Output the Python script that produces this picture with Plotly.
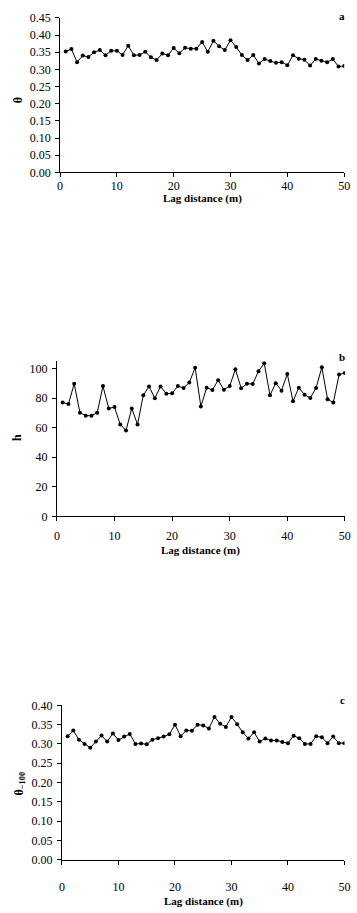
import plotly.graph_objects as go

lag = list(range(1, 51))

theta = [0.352, 0.359, 0.321, 0.340, 0.336, 0.350, 0.356, 0.341, 0.354, 0.354,
         0.342, 0.369, 0.341, 0.342, 0.351, 0.335, 0.327, 0.346, 0.341, 0.362,
         0.347, 0.363, 0.360, 0.360, 0.380, 0.351, 0.383, 0.367, 0.356, 0.385,
         0.365, 0.342, 0.327, 0.342, 0.317, 0.330, 0.324, 0.319, 0.321, 0.312,
         0.341, 0.331, 0.328, 0.311, 0.330, 0.325, 0.321, 0.330, 0.308, 0.310]

h = [77.1, 76.0, 89.8, 70.2, 68.2, 68.2, 70.2, 88.2, 73.1, 74.0,
     62.2, 58.2, 73.1, 62.2, 82.0, 88.0, 80.0, 88.0, 83.1, 83.3,
     88.2, 86.9, 90.7, 100.7, 74.4, 87.1, 85.6, 92.2, 85.8, 88.2,
     99.6, 86.7, 89.8, 89.6, 98.2, 103.6, 82.0, 90.2, 85.1, 96.4,
     78.0, 87.1, 82.4, 80.2, 86.9, 100.9, 79.3, 77.1, 96.0, 97.1]

theta100 = [0.320, 0.335, 0.311, 0.300, 0.290, 0.306, 0.322, 0.306, 0.327, 0.310,
            0.319, 0.326, 0.300, 0.301, 0.299, 0.311, 0.315, 0.319, 0.325, 0.350,
            0.320, 0.335, 0.334, 0.350, 0.348, 0.340, 0.370, 0.352, 0.344, 0.370,
            0.351, 0.330, 0.314, 0.330, 0.306, 0.314, 0.309, 0.309, 0.305, 0.302,
            0.321, 0.315, 0.300, 0.300, 0.320, 0.317, 0.302, 0.319, 0.302, 0.302]

W, H = 357, 913
FONT = "Liberation Serif"

def px(x):
    return x / W

def py(y):
    return 1 - y / H

fig = go.Figure()

panels = [
    (theta, (58.5, 350.0), (11, 168), [0, 0.45], 0.05, ".2f",
     "<b>θ</b>", 15, 95, "a", 9, 194, -2),
    (h, (55.3, 350.7), (359.8, 517.3), [0, 105], 20, "d",
     "<b>h</b>", 15, 437, "b", 355, 552, 4),
    (theta100, (60.5, 350.3), (709.2, 866), [0, 0.40], 0.05, ".2f",
     "<b>θ<sub>−100</sub></b>", 17, 789, "c", 704, 908, 12),
]

annotations = []
for i, (ser, (x0, x1), (yt, yb), yr, dt, fmt, ytitle, ytx, yty, letter, ly, xty, xso) in enumerate(panels):
    k = "" if i == 0 else str(i + 1)
    fig.add_trace(go.Scatter(
        x=lag, y=ser, mode="lines+markers",
        line=dict(color="black", width=1),
        marker=dict(color="black", size=4),
        xaxis="x" + k, yaxis="y" + k, showlegend=False,
    ))
    axstyle = dict(showline=True, linecolor="black", linewidth=1, ticks="outside",
                   ticklen=4, tickcolor="black", tickwidth=1, showgrid=False,
                   zeroline=False, tickfont=dict(family=FONT, size=12, color="black"))
    fig.update_layout(**{
        "xaxis" + k: dict(domain=[px(x0), px(x1)], range=[0, 50], dtick=10,
                          anchor="y" + k, ticklabelstandoff=xso, **axstyle),
        "yaxis" + k: dict(domain=[py(yb), py(yt)], range=yr, dtick=dt,
                          tickformat=fmt, anchor="x" + k, ticklabelstandoff=2,
                          **axstyle),
    })
    annotations.append(dict(text="<b>Lag distance (m)</b>", x=px((x0 + x1) / 2), y=py(xty),
                            xref="paper", yref="paper", showarrow=False,
                            xanchor="center", yanchor="middle",
                            font=dict(family=FONT, size=11, color="black")))
    annotations.append(dict(text=ytitle, x=px(ytx), y=py(yty), textangle=-90,
                            xref="paper", yref="paper", showarrow=False,
                            xanchor="center", yanchor="middle",
                            font=dict(family=FONT, size=12, color="black")))
    annotations.append(dict(text="<b>" + letter + "</b>", x=px(348), y=py(ly),
                            xref="paper", yref="paper", showarrow=False,
                            xanchor="center", yanchor="middle",
                            font=dict(family=FONT, size=11, color="black")))

fig.update_layout(
    width=W, height=H, margin=dict(l=0, r=0, t=0, b=0),
    paper_bgcolor="white", plot_bgcolor="white",
    annotations=annotations,
)

fig.write_html("out.html", config={"displayModeBar": False},
               post_script="document.body.style.margin='0';")
